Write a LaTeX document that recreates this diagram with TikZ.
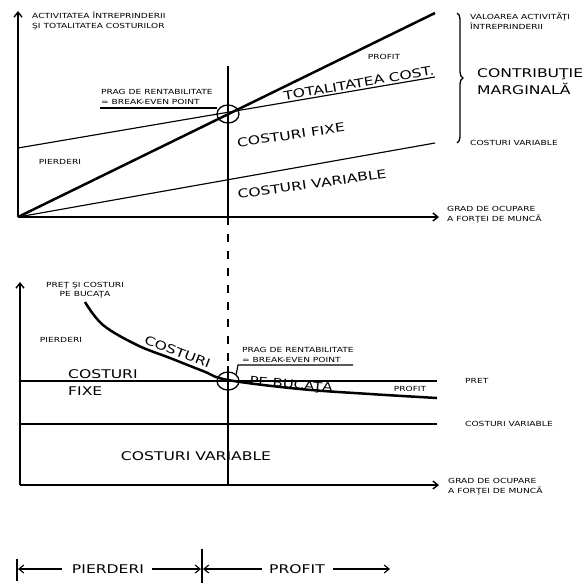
\documentclass[tikz,border=0pt]{standalone}
\usepackage{fontspec}
\setmainfont[FakeStretch=1.3]{DejaVu Sans}
\usetikzlibrary{arrows.meta,decorations.pathreplacing,shapes.geometric}
\tikzset{
  sm/.style={font=\fontsize{7}{10}\selectfont, inner sep=0pt, align=left},
  smc/.style={font=\fontsize{7}{9}\selectfont, inner sep=0pt, align=center},
  lg/.style={font=\fontsize{12}{17}\selectfont, inner sep=0pt, align=left},
  ln/.style={line width=1.15pt},
  thk/.style={line width=2.5pt},
  ax/.style={line width=1.4pt, -{Straight Barb[length=5pt,width=8pt]}},
  leg/.style={line width=1.1pt, -{Straight Barb[length=5pt,width=8pt]}},
  bep/.style={draw, ellipse, line width=1.3pt, minimum width=22pt, minimum height=18pt, inner sep=0pt},
}
\begin{document}
\begin{tikzpicture}[x=1pt,y=-1pt]
\useasboundingbox (0,0) rectangle (588,584);
% ---------- top chart ----------
\coordinate (O1) at (18,217);
\coordinate (Y1) at (18,11);
\coordinate (X1) at (439,217);
\coordinate (V1) at (435,13);
\coordinate (TCa) at (18,148);
\coordinate (TCb) at (435,77);
\coordinate (CVb) at (435,143);
\coordinate (Vt) at (228,66);
\coordinate (Vm) at (228,366);
\coordinate (U1a) at (100,108);
\coordinate (U1b) at (217,108);
\node[bep] (B1) at (228,114) {};
\draw[ax] (O1) -- (Y1);
\draw[ax] (O1) -- (X1);
\draw[ln] (TCa) -- (TCb);
\draw[ln] (O1) -- (CVb);
\draw[thk] (O1) -- (V1);
\draw[line width=1.3pt] (Vt) -- (O1 -| Vt);
\draw[line width=1.3pt, dash pattern=on 8pt off 9pt] (O1 -| Vt) -- (Vm);
\draw[ln] (U1a) -- (U1b);
\node[sm, anchor=west] (t1) at (32,21) {ACTIVITATEA ÎNTREPRINDERII\\ŞI TOTALITATEA COSTURILOR};
\node[sm, anchor=west] (t2) at (101,97) {PRAG DE RENTABILITATE\\= BREAK-EVEN POINT};
\node[sm] (t3) at (384,57) {PROFIT};
\node[lg, anchor=base, rotate=9.7] (t4) at (359.5,87.5) {TOTALITATEA COST.};
\node[lg, rotate=8.5] (t5) at (291,135) {COSTURI FIXE};
\node[sm] (t6) at (60,162) {PIERDERI};
\node[lg, rotate=8] (t7) at (312,184) {COSTURI VARIABLE};
\draw[decorate, decoration={brace, amplitude=6pt}, line width=1.3pt] (457,13) -- (457,143);
\node[sm, anchor=west] (t8) at (470,21) {VALOAREA ACTIVITĂŢI\\ÎNTREPRINDERII};
\node[lg, anchor=west] (t9) at (477,81.5) {CONTRIBUŢIE\\MARGINALĂ};
\node[sm, anchor=west] (t10) at (470,143) {COSTURI VARIABLE};
\node[sm, anchor=west] (t11) at (447,215) {GRAD DE OCUPARE\\A FORŢEI DE MUNCĂ};
% ---------- bottom chart ----------
\coordinate (O2) at (20,485);
\coordinate (Y2) at (20,282);
\coordinate (X2) at (439,485);
\coordinate (Pa) at (20,381);
\coordinate (Pb) at (437,381);
\coordinate (Ca) at (20,424);
\coordinate (Cb) at (437,424);
\coordinate (Lk) at (238,365);
\coordinate (Le) at (353,365);
\node[bep] (B2) at (228,381) {};
\draw[ax] (O2) -- (Y2);
\draw[ax] (O2) -- (X2);
\draw[ln] (Pa) -- (Pb);
\draw[ln] (Ca) -- (Cb);
\draw[line width=1.3pt] (Vm) -- (O2 -| Vm);
\draw[thk] plot[smooth, tension=0.6] coordinates {(85,302) (103,325) (137,345) (170,358) (203,371) (228,380) (300,389) (370,394) (437,398)};
\draw[ln] (B2.north east) -- (Lk) -- (Le);
\node[smc] (b1) at (85,290.5) {PREŢ ŞI COSTURI\\PE BUCAŢA};
\node[sm] (b2) at (61,340) {PIERDERI};
\node[lg, anchor=west] (b3) at (68,382.5) {COSTURI\\FIXE};
\node[lg, anchor=base, rotate=-21] (b4) at (176,356) {COSTURI};
\node[font=\fontsize{11.5}{14}\selectfont, inner sep=0pt, rotate=-5] (b5) at (291,385) {PE BUCAŢA};
\node[sm, anchor=west] (b6) at (242,354.5) {PRAG DE RENTABILITATE\\= BREAK-EVEN POINT};
\node[sm] (b7) at (410,389) {PROFIT};
\node[sm, anchor=west] (b8) at (465,381) {PRET};
\node[sm, anchor=west] (b9) at (465,424) {COSTURI VARIABLE};
\node[lg] (b10) at (196,456) {COSTURI VARIABLE};
\node[sm, anchor=west] (b11) at (448,486.5) {GRAD DE OCUPARE\\A FORŢEI DE MUNCĂ};
% ---------- legend ----------
\coordinate (La) at (17,559);
\coordinate (Lb) at (17,581);
\coordinate (Ma) at (202,549);
\coordinate (Mb) at (202,583);
\draw[ln] (La) -- (Lb);
\draw[ln] (Ma) -- (Mb);
\node[lg] (g1) at (108,569) {PIERDERI};
\node[lg] (g2) at (297,569) {PROFIT};
\coordinate (g1l) at (62,569);
\coordinate (g1r) at (152,569);
\coordinate (g2l) at (262,569);
\coordinate (g2r) at (333,569);
\draw[leg] (g1l) -- (18,569);
\draw[leg] (g1r) -- (201,569);
\draw[leg] (g2l) -- (203,569);
\draw[leg] (g2r) -- (390,569);
\end{tikzpicture}
\end{document}
